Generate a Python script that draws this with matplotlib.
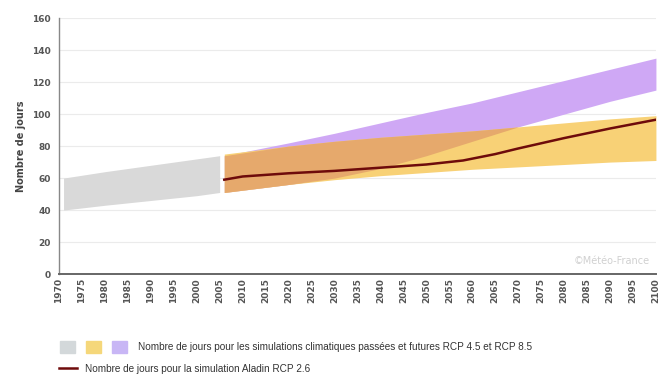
import numpy as np
import matplotlib.pyplot as plt

# bande grise : simulations passees
annees_passe = [1971, 1980, 1990, 2000, 2005]
passe_bas = [40, 43, 46, 49, 51]
passe_haut = [60, 64, 68, 72, 74]

# bandes futures (RCP 4.5 orange, RCP 8.5 violet)
annees_futur = [2006, 2020, 2030, 2040, 2050, 2060, 2070, 2080, 2090, 2100]
rcp45_bas = [51, 56, 59, 61.5, 63.5, 65.5, 67, 68.5, 70, 71]
rcp45_haut = [75, 80, 83, 85.5, 87.5, 89.5, 92, 94.5, 97, 99]
rcp85_bas = [51, 56, 60, 66, 74, 83, 92, 100, 108, 115]
rcp85_haut = [74, 82, 88, 94.5, 101, 107, 114, 121, 128, 135]

# simulation Aladin RCP 2.6
annees_aladin = [2006, 2010, 2020, 2030, 2040, 2050, 2058, 2065, 2070, 2080, 2090, 2100]
aladin = [59, 61, 63, 64.5, 66.5, 68.5, 71, 75, 78.5, 85, 91, 96.5]

GRIS = '#d9d9d9'
JAUNE = '#f8d176'
VIOLET = '#cfa8f5'
BRUN = '#e6a96c'

fig = plt.figure(figsize=(6.7, 3.78), dpi=100)
ax = fig.add_axes([0.088, 0.275, 0.891, 0.677])

ax.fill_between(annees_passe, passe_bas, passe_haut, color=GRIS, lw=0)
ax.fill_between(annees_futur, rcp85_bas, rcp85_haut, color=VIOLET, lw=0)
ax.fill_between(annees_futur, rcp45_bas, rcp45_haut, color=JAUNE, lw=0)

# zone de recouvrement des deux bandes
bas = np.maximum(rcp45_bas, rcp85_bas)
haut = np.minimum(rcp45_haut, rcp85_haut)
ax.fill_between(annees_futur, bas, haut, where=haut > bas, interpolate=True,
                color=BRUN, lw=0)

ax.plot(annees_aladin, aladin, color='#6e0b0b', lw=1.8)

ax.set_xlim(1970, 2100)
ax.set_ylim(0, 160)
ax.set_xticks(range(1970, 2101, 5))
ax.set_yticks(range(0, 161, 20))
ax.tick_params(axis='x', rotation=90, labelsize=6.5, length=0, pad=3,
               labelcolor='#555555')
ax.tick_params(axis='y', labelsize=6.5, length=0, pad=6, labelcolor='#555555')
for lab in ax.get_xticklabels() + ax.get_yticklabels():
    lab.set_fontweight('bold')

ax.grid(axis='y', color='#ebebeb', lw=0.8)
ax.set_axisbelow(True)
for s in ['top', 'right']:
    ax.spines[s].set_visible(False)
ax.spines['left'].set_color('#888888')
ax.spines['bottom'].set_color('#666666')
ax.spines['left'].set_linewidth(1.0)
ax.spines['bottom'].set_linewidth(1.4)

ax.set_ylabel('Nombre de jours', fontsize=7, fontweight='bold', color='#444444')

ax.text(0.99, 0.03, '©Météo-France', transform=ax.transAxes, ha='right',
        va='bottom', fontsize=7, color='#d0d0d0')

# legende
police = {'family': 'Liberation Sans', 'size': 7.2}
h1 = plt.Rectangle((0, 0), 1, 1, color='#d3d8da')
h2 = plt.Rectangle((0, 0), 1, 1, color='#f5d77a')
h3 = plt.Rectangle((0, 0), 1, 1, color='#c8b6f5')
leg1 = fig.legend([h1, h2, h3], ['', '',
                  'Nombre de jours pour les simulations climatiques passées et futures RCP 4.5 et RCP 8.5'],
                  loc='center left', bbox_to_anchor=(0.076, 0.082), ncol=3,
                  frameon=False, handlelength=1.5, handleheight=1.5,
                  columnspacing=0.0, handletextpad=1.1, prop=police)
for t in leg1.get_texts():
    t.set_color('#333333')
h4, = plt.plot([], [], color='#6e0b0b', lw=1.8)
leg2 = fig.legend([h4], ['Nombre de jours pour la simulation Aladin RCP 2.6'],
                  loc='center left', bbox_to_anchor=(0.074, 0.024),
                  frameon=False, handlelength=1.8, handletextpad=0.8,
                  prop=police)
for t in leg2.get_texts():
    t.set_color('#333333')

fig.savefig('out.png', dpi=100)
